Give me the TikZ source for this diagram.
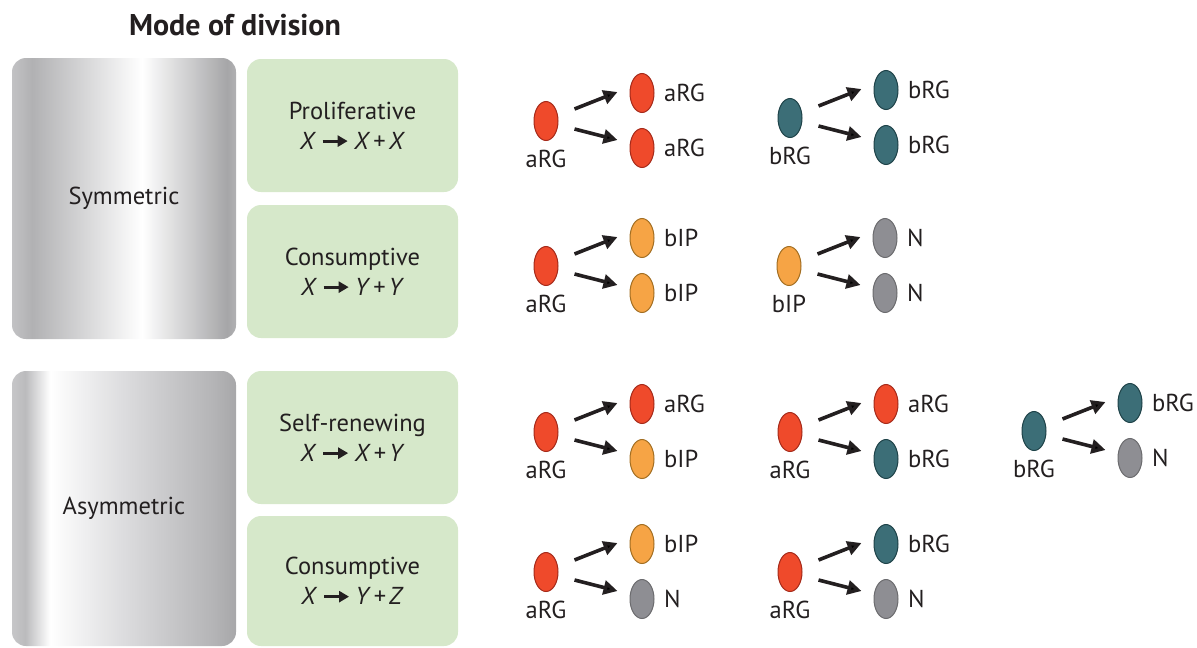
\documentclass[tikz,border=0pt]{standalone}
\usepackage{fontspec}
\setmainfont{PT Sans}
\usetikzlibrary{arrows.meta,shapes.geometric}
\definecolor{txt}{HTML}{231F20}
\definecolor{grn}{HTML}{D6E8CA}
\definecolor{argF}{HTML}{EF4A2B}
\definecolor{argD}{HTML}{A52A1A}
\definecolor{brgF}{HTML}{3C6E77}
\definecolor{brgD}{HTML}{1E4248}
\definecolor{bipF}{HTML}{F6A445}
\definecolor{bipD}{HTML}{A26E22}
\definecolor{nF}{HTML}{8E8E93}
\definecolor{nD}{HTML}{6B6B6E}
\definecolor{sA}{HTML}{C2C2C4}
\definecolor{sB}{HTML}{B1B1B3}
\definecolor{sC}{HTML}{A6A6A8}
\definecolor{sD}{HTML}{B0B0B2}
\definecolor{aA}{HTML}{C6C6C8}
\definecolor{aB}{HTML}{BBBBBD}
\definecolor{aC}{HTML}{DCDCDE}
\definecolor{aD}{HTML}{B4B4B6}
\definecolor{aE}{HTML}{A7A7A9}
\pgfdeclarehorizontalshading{symshade}{100bp}{color(0bp)=(sA); color(25bp)=(sA); color(29.5bp)=(sB); color(54bp)=(white); color(73bp)=(sC); color(75bp)=(sD); color(100bp)=(sD)}
\pgfdeclarehorizontalshading{asymshade}{100bp}{color(0bp)=(aA); color(25bp)=(aA); color(28bp)=(aB); color(33.5bp)=(white); color(50bp)=(aC); color(70bp)=(aD); color(75bp)=(aE); color(100bp)=(aE)}
\newcommand\fatarr{\tikz[baseline=-0.33em]\draw[line width=3pt,-{Triangle[length=10pt,width=11pt]}] (0pt,0pt) -- (25pt,0pt);}
\newcommand\fx[3]{\textit{#1}\hspace{5pt}\fatarr\hspace{5pt}\textit{#2}\hspace{3pt}+\hspace{3pt}\textit{#3}}
\newcommand\divgrp[9]{%
  \node[#4] (#1p) at (#2,#3) {};
  \node[lbl] (#1pl) at (#2,#3+38) {#5};
  \node[#6] (#1a) at (#2+96,#3-28) {};
  \node[#8] (#1b) at (#2+96,#3+27) {};
  \node[lbl,anchor=west] (#1al) at (#2+118,#3-28) {#7};
  \node[lbl,anchor=west] (#1bl) at (#2+118,#3+27) {#9};
  \draw[arr] ([shift={(16,-12)}]#1p.east) -- ([shift={(-12,-1)}]#1a.west);
  \draw[arr] ([shift={(16,8)}]#1p.east) -- ([shift={(-12,-8)}]#1b.west);
}
\begin{document}
\begin{tikzpicture}[x=1pt,y=-1pt,
  cell/.style={ellipse,minimum width=24pt,minimum height=39pt,inner sep=0pt,line width=1pt},
  argc/.style={cell,fill=argF,draw=argD},
  brgc/.style={cell,fill=brgF,draw=brgD},
  bipc/.style={cell,fill=bipF,draw=bipD},
  nc/.style={cell,fill=nF,draw=nD},
  lbl/.style={inner sep=0pt,text=txt,font=\fontsize{24.5}{26}\selectfont},
  arr/.style={line width=3.6pt,draw=txt,-{Triangle[length=14pt,width=14pt]}},
  gbox/.style={fill=grn,rounded corners=14pt,minimum width=211pt,text=txt,align=center,inner sep=0pt,font=\fontsize{24.5}{30}\selectfont},
  graybox/.style={shade,rounded corners=14pt,minimum width=224pt,text=txt,inner sep=0pt,font=\fontsize{24.5}{28}\selectfont}]
\useasboundingbox (0,0) rectangle (1197,648);
\node[text=txt,font=\bfseries\fontsize{30}{32}\selectfont] (title) at (235,25) {Mode of division};
\node[graybox,shading=symshade,minimum height=281pt] (sym) at (124,198.5) {Symmetric};
\node[graybox,shading=asymshade,minimum height=275pt] (asym) at (124,508.5) {Asymmetric};
\node[gbox,minimum height=133pt] (prol) at (352.5,125.5) {Proliferative\\\fx{X}{X}{X}};
\node[gbox,minimum height=133pt] (cons1) at (352.5,271.5) {Consumptive\\\fx{X}{Y}{Y}};
\node[gbox,minimum height=133pt] (self) at (352.5,437.5) {Self-renewing\\\fx{X}{X}{Y}};
\node[gbox,minimum height=130pt] (cons2) at (352.5,581) {Consumptive\\\fx{X}{Y}{Z}};
\divgrp{ga}{546}{121}{argc}{aRG}{argc}{aRG}{argc}{aRG}
\divgrp{gb}{790}{118}{brgc}{bRG}{brgc}{bRG}{brgc}{bRG}
\divgrp{gc}{546}{266}{argc}{aRG}{bipc}{bIP}{bipc}{bIP}
\divgrp{gd}{789}{266}{bipc}{bIP}{nc}{N}{nc}{N}
\divgrp{ge}{546}{432}{argc}{aRG}{argc}{aRG}{bipc}{bIP}
\divgrp{gf}{790}{432}{argc}{aRG}{argc}{aRG}{brgc}{bRG}
\divgrp{gg}{1034}{431}{brgc}{bRG}{brgc}{bRG}{nc}{N}
\divgrp{gh}{546}{572}{argc}{aRG}{bipc}{bIP}{nc}{N}
\divgrp{gi}{790}{572}{argc}{aRG}{brgc}{bRG}{nc}{N}
\end{tikzpicture}
\end{document}
